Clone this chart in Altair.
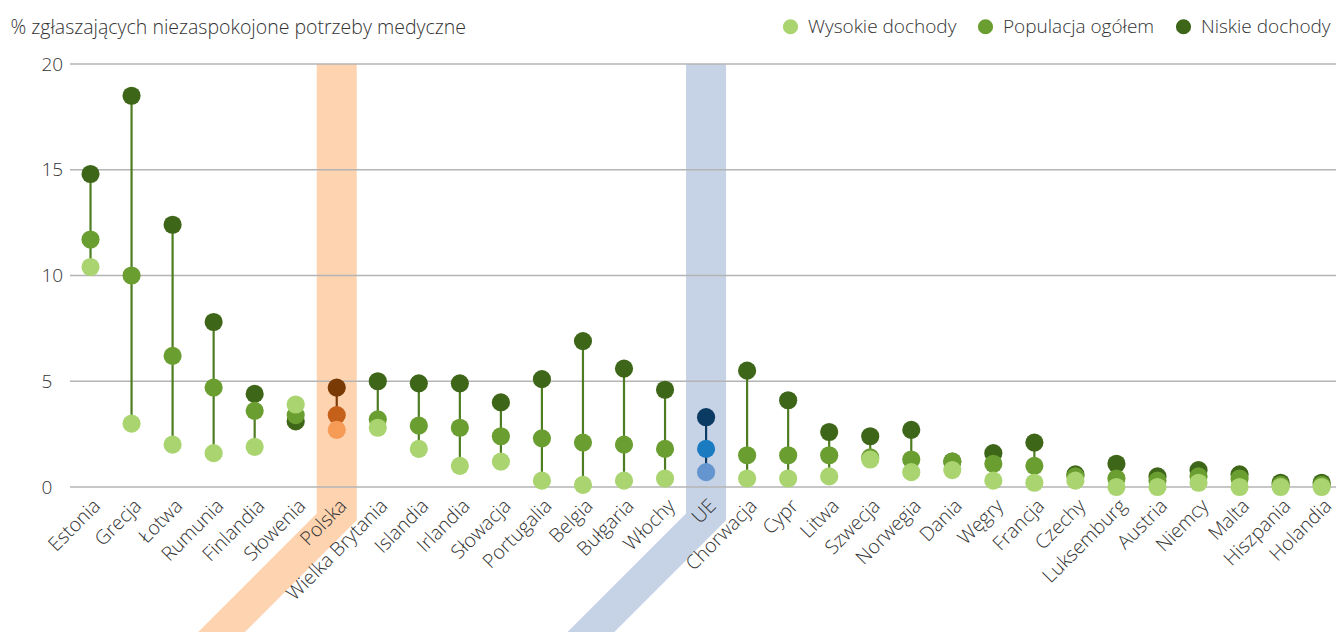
import json
import altair as alt
import pandas as pd

# ---------------- data ----------------
countries = ["Estonia", "Grecja", "Łotwa", "Rumunia", "Finlandia", "Słowenia", "Polska",
             "Wielka Brytania", "Islandia", "Irlandia", "Słowacja", "Portugalia", "Belgia",
             "Bułgaria", "Włochy", "UE", "Chorwacja", "Cypr", "Litwa", "Szwecja", "Norwegia",
             "Dania", "Węgry", "Francja", "Czechy", "Luksemburg", "Austria", "Niemcy", "Malta",
             "Hiszpania", "Holandia"]

niskie = [14.8, 18.5, 12.4, 7.8, 4.4, 3.1, 4.7, 5.0, 4.9, 4.9, 4.0, 5.1, 6.9, 5.6, 4.6,
          3.3, 5.5, 4.1, 2.6, 2.4, 2.7, 1.2, 1.6, 2.1, 0.6, 1.1, 0.5, 0.8, 0.6, 0.2, 0.2]
populacja = [11.7, 10.0, 6.2, 4.7, 3.6, 3.4, 3.4, 3.2, 2.9, 2.8, 2.4, 2.3, 2.1, 2.0, 1.8,
             1.8, 1.5, 1.5, 1.5, 1.4, 1.3, 1.2, 1.1, 1.0, 0.5, 0.4, 0.3, 0.5, 0.4, 0.1, 0.1]
wysokie = [10.4, 3.0, 2.0, 1.6, 1.9, 3.9, 2.7, 2.8, 1.8, 1.0, 1.2, 0.3, 0.1, 0.3, 0.4,
           0.7, 0.4, 0.4, 0.5, 1.3, 0.7, 0.8, 0.3, 0.2, 0.3, 0.0, 0.0, 0.2, 0.0, 0.0, 0.0]

series_names = ["Wysokie dochody", "Populacja ogółem", "Niskie dochody"]
y_ticks = [0, 5, 10, 15, 20]
y_title = "% zgłaszających niezaspokojone potrzeby medyczne"

# ---------------- styles ----------------
FONT = "Open Sans"
FW = 300
TEXT = "#333333"
green_colors = ["#a9d46f", "#6b9e31", "#3e6618"]
green_stem = "#4d7c22"
highlights = {
    "Polska": {"band": "#fdd3b0", "stem": "#7a3a05",
               "colors": ["#f69b56", "#c4601a", "#7a3a05"]},
    "UE": {"band": "#c6d3e6", "stem": "#0b3a63",
           "colors": ["#6495ce", "#1a7bc0", "#0b3a63"]},
}
W, H = 1266, 423
X_MIN, X_MAX = -0.5, 30.35

# ---------------- tables ----------------
idx = {c: i for i, c in enumerate(countries)}
values_by_series = {"Wysokie dochody": wysokie, "Populacja ogółem": populacja,
                    "Niskie dochody": niskie}
draw_order = ["Niskie dochody", "Populacja ogółem", "Wysokie dochody"]

rows = []
for s in draw_order:
    for c, v in zip(countries, values_by_series[s]):
        fill = None
        if c in highlights:
            fill = highlights[c]["colors"][series_names.index(s)]
        rows.append({"kraj": c, "i": idx[c], "seria": s, "v": v, "fill": fill,
                     "ord": draw_order.index(s)})
dots = pd.DataFrame(rows)
dots_green = dots[~dots["kraj"].isin(list(highlights))]
dots_hl = dots[dots["kraj"].isin(list(highlights))]

stems = pd.DataFrame({
    "i": list(range(len(countries))),
    "lo": [min(a, b, c) for a, b, c in zip(niskie, populacja, wysokie)],
    "hi": [max(a, b, c) for a, b, c in zip(niskie, populacja, wysokie)],
    "stroke": [highlights[c]["stem"] if c in highlights else green_stem for c in countries],
})

# highlight band shape (vertical strip + 45deg tail under the labels)
px_per_y = H / 20.0
px_per_x = W / (X_MAX - X_MIN)
k = px_per_y / px_per_x
half = 0.4875
band_rows = []
for c, st in highlights.items():
    ci = idx[c]
    yl, yr, yb = -1.25, -1.57, -7.6
    pts = [(20, ci - half, ci + half),
           (yl, ci - half, ci + half),
           (yr, ci - half - (yl - yr) * k, ci + half),
           (yb, ci - half - (yl - yb) * k, ci + half - (yr - yb) * k)]
    for y, xa, xb in pts:
        band_rows.append({"kraj": c, "y": y, "xa": xa, "xb": xb})
bands = pd.DataFrame(band_rows)

grid = pd.DataFrame({"g": y_ticks, "x0": X_MIN, "x1": X_MAX})

label_expr = json.dumps(countries, ensure_ascii=False) + "[datum.value]"

x_scale = alt.Scale(domain=[X_MIN, X_MAX], nice=False, zero=False)
y_scale = alt.Scale(domain=[0, 20], nice=False, zero=False)

x_axis = alt.Axis(values=list(range(len(countries))), labelExpr=label_expr,
                  labelAngle=-45, labelAlign="right", labelBaseline="top",
                  labelPadding=9, labelFontSize=19.5, labelFont=FONT, labelColor=TEXT,
                  labelFontWeight=FW,
                  grid=False, domain=False, ticks=False, labelOverlap=False,
                  labelFlush=False, labelBound=False, title=None, zindex=1)
y_axis = alt.Axis(values=y_ticks, grid=False, domain=False, ticks=False, tickSize=0,
                  labelPadding=29, labelAlign="left", labelFontSize=19, labelFont=FONT,
                  labelFontWeight=FW,
                  labelColor=TEXT, title=y_title, titleAngle=0, titleAlign="left",
                  titleBaseline="alphabetic", titleX=-60, titleY=-31, titleFontSize=19.5,
                  titleFontWeight=FW, titleColor=TEXT, titleFont=FONT)

base_x = alt.X("i:Q", scale=x_scale, axis=x_axis)
base_y = alt.Y("v:Q", scale=y_scale, axis=y_axis)

band_layers = []
for c, st in highlights.items():
    band_layers.append(
        alt.Chart(bands[bands["kraj"] == c]).mark_area(orient="horizontal", color=st["band"])
        .encode(y=alt.Y("y:Q", scale=y_scale, axis=y_axis),
                x=alt.X("xa:Q", scale=x_scale, axis=x_axis),
                x2="xb:Q")
    )

grid_layer = alt.Chart(grid).mark_rule(color="#b4b4b4", strokeWidth=1.5).encode(
    y=alt.Y("g:Q", scale=y_scale, axis=y_axis),
    x=alt.X("x0:Q", scale=x_scale, axis=x_axis), x2="x1:Q")

stem_layer = alt.Chart(stems).mark_rule(strokeWidth=2.2).encode(
    x=alt.X("i:Q", scale=x_scale, axis=x_axis),
    y=alt.Y("lo:Q", scale=y_scale, axis=y_axis), y2="hi:Q",
    stroke=alt.Stroke("stroke:N", scale=None))

green_layer = alt.Chart(dots_green).mark_circle(size=330, opacity=1).encode(
    x=base_x, y=base_y,
    color=alt.Color("seria:N", scale=alt.Scale(domain=series_names, range=green_colors),
                    legend=alt.Legend(orient="none", legendX=711, legendY=-47,
                                      direction="horizontal", title=None,
                                      symbolType="circle", symbolSize=230,
                                      symbolStrokeWidth=0, labelFontSize=19,
                                      labelFont=FONT, labelColor=TEXT,
                                      labelFontWeight=FW,
                                      columnPadding=19, labelOffset=8)),
    order=alt.Order("ord:Q"))

hl_layer = alt.Chart(dots_hl).mark_circle(size=330, opacity=1).encode(
    x=base_x, y=base_y,
    fill=alt.Fill("fill:N", scale=None),
    order=alt.Order("ord:Q"))

chart = alt.layer(*band_layers, grid_layer, stem_layer, green_layer, hl_layer).properties(
    width=W, height=H,
    autosize=alt.AutoSizeParams(type="none"),
    padding={"left": 62, "top": 56, "right": 0, "bottom": 145},
    background="white",
).configure_view(stroke=None)

chart.save("out.html", embed_options={"renderer": "svg", "actions": False})
